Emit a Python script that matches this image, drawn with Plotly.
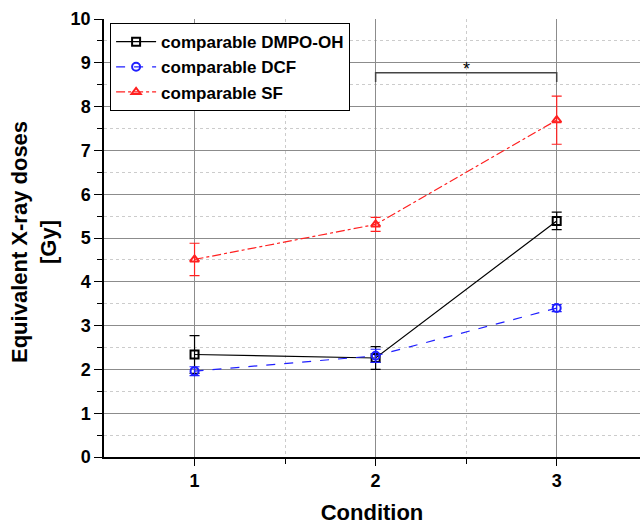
import plotly.graph_objects as go

conditions = [1, 2, 3]
dmpo_oh = [2.34, 2.26, 5.39]
dmpo_oh_err = [0.43, 0.26, 0.2]
dcf = [1.96, 2.31, 3.40]
dcf_err = [0.10, 0.15, 0.08]
sf = [4.51, 5.31, 7.69]
sf_err = [0.37, 0.16, 0.55]

series = [
    ("comparable DMPO-OH", dmpo_oh, dmpo_oh_err, "black", "solid", "square-open"),
    ("comparable DCF", dcf, dcf_err, "#1f1fff", "dash", "circle-open"),
    ("comparable SF", sf, sf_err, "#ff2020", "dashdot", "triangle-up-open"),
]

fig = go.Figure()
for name, y, e, c, dash, sym in series:
    fig.add_trace(go.Scatter(
        x=conditions, y=y, name=name, mode="lines+markers",
        line=dict(color=c, width=1.2, dash=dash),
        marker=dict(symbol=sym, size=8, color=c, line=dict(width=2, color=c)),
        error_y=dict(type="data", array=e, visible=True, color=c, thickness=1.2, width=5),
    ))

# significance bracket
fig.add_trace(go.Scatter(x=[2, 2, 3, 3], y=[8.56, 8.77, 8.77, 8.56], mode="lines",
                         line=dict(color="#444444", width=1.5), showlegend=False, hoverinfo="skip"))
fig.add_annotation(x=2.5, y=8.86, text="*", showarrow=False, yanchor="middle",
                   font=dict(size=18, color="black", family="Liberation Sans"))

fig.add_annotation(xref="paper", yref="paper", x=0, y=0.5, xanchor="center", yanchor="middle",
                   xshift=-70, yshift=-4, textangle=-90, showarrow=False,
                   text="<b>Equivalent X-ray doses<br>[Gy]</b>",
                   font=dict(size=22, color="black", family="Liberation Sans"))

fig.update_layout(
    width=640, height=525,
    margin=dict(l=104, r=0, t=19, b=68),
    paper_bgcolor="white", plot_bgcolor="white",
    font=dict(family="Liberation Sans, Arial", color="black"),
    legend=dict(x=0.011, y=0.991, xanchor="left", yanchor="top",
                bgcolor="white", bordercolor="black", borderwidth=1.2,
                font=dict(size=17, family="Liberation Sans", weight="bold"),
                tracegroupgap=0, itemwidth=40),
    showlegend=True,
)
fig.update_xaxes(
    range=[0.5, 3.46], tickvals=[1, 2, 3], ticktext=["<b>1</b>", "<b>2</b>", "<b>3</b>"],
    tickfont=dict(size=18), ticks="outside", ticklen=7, tickcolor="black",
    showline=True, linecolor="black", linewidth=1.5,
    showgrid=True, gridcolor="#8c8c8c", gridwidth=1, zeroline=False,
    minor=dict(tickvals=[1.5, 2.5], ticks="outside", ticklen=5, tickcolor="black",
               showgrid=True, gridcolor="#cccccc", griddash="dot", gridwidth=1),
    title=dict(text="<b>Condition</b>", font=dict(size=22), standoff=14),
)
fig.update_yaxes(
    range=[0, 10], tickvals=list(range(0, 11)),
    ticktext=[f"<b>{v}</b>" for v in range(0, 11)],
    tickfont=dict(size=18), ticks="outside", ticklen=8, tickcolor="black",
    showline=True, linecolor="black", linewidth=1.5,
    showgrid=True, gridcolor="#8c8c8c", gridwidth=1, zeroline=False,
    minor=dict(tickvals=[i + 0.5 for i in range(10)], ticks="outside", ticklen=5, tickcolor="black",
               showgrid=True, gridcolor="#cccccc", griddash="dot", gridwidth=1),
)

fig.write_html("out.html")
